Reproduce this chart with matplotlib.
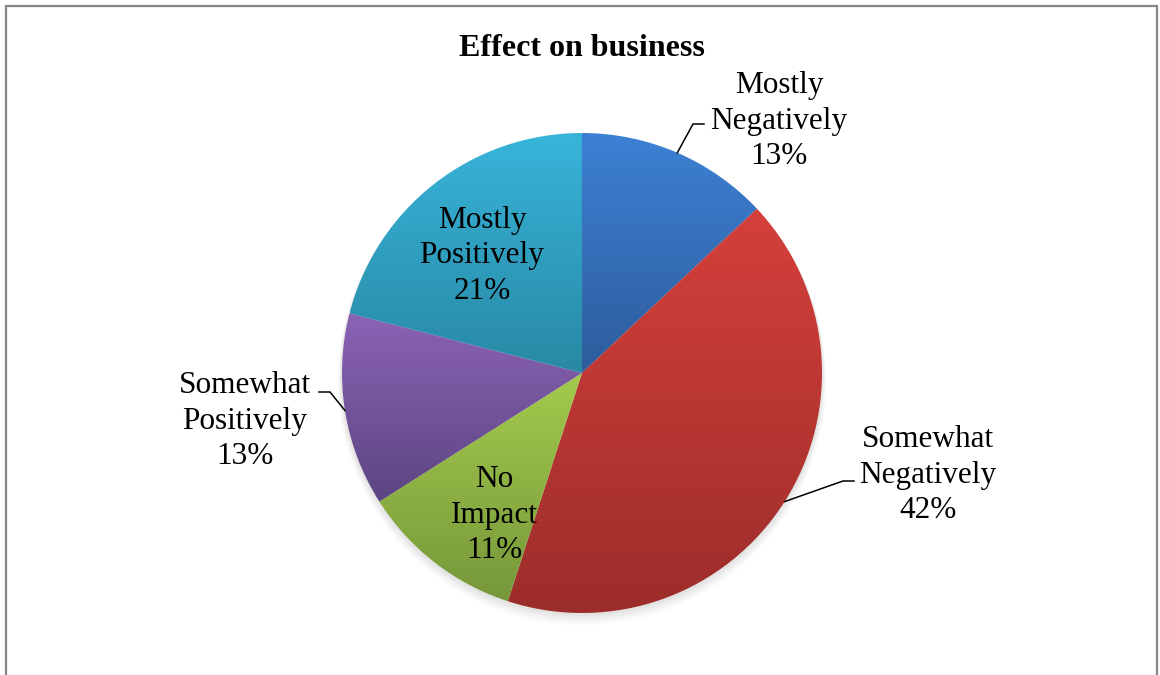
import numpy as np
import matplotlib
matplotlib.use("Agg")
import matplotlib.pyplot as plt
from matplotlib.colors import LinearSegmentedColormap
from matplotlib.patches import Rectangle, Circle

# Survey answers, clockwise from 12 o'clock
labels = ["Mostly\nNegatively", "Somewhat\nNegatively", "No\nImpact",
          "Somewhat\nPositively", "Mostly\nPositively"]
shares = [13, 42, 11, 13, 21]

# (top, bottom) of the vertical gradient in each slice
grad_top = ["#3d81d4", "#d5403b", "#a4cb4d", "#8b63b5", "#38b4da"]
grad_bot = ["#2d5c9c", "#9c2d2a", "#76973a", "#5c4582", "#2889a5"]

# label block centres (pixels)
label_px = [(779, 121), (928, 475), (494, 515), (245, 421), (482, 256)]
# where a leader line meets its label, as a pixel offset from the label centre
leader_end = [(-75, 3), (-74, 6), None, (74, -29), None]
ELBOW = 11  # length of the flat part of a leader, pixels

W, H = 1160, 675
CX, CY, R = 582, 373, 240   # pie centre / radius in pixels

plt.rcParams["font.family"] = ["Liberation Serif", "DejaVu Serif"]

fig = plt.figure(figsize=(W / 100, H / 100), dpi=100)
ax = fig.add_axes([0, 0, 1, 1])


def px2d(x, y):
    return (x - CX) / R, (CY - y) / R


# soft shadow under the pie
for k, a in enumerate([0.05, 0.05, 0.04, 0.03]):
    ax.add_patch(Circle((0, -(2 + 2 * k) / R), 1.0 + (1 + k) / R,
                        color="#606060", alpha=a, lw=0, zorder=0))

wedges, _ = ax.pie(shares, startangle=90, counterclock=False, radius=1,
                   center=(0, 0), frame=True,
                   wedgeprops=dict(facecolor="none", edgecolor="none"))

grad = np.linspace(0, 1, 256).reshape(-1, 1)
for w, c0, c1 in zip(wedges, grad_top, grad_bot):
    ext = w.get_path().get_extents()
    cmap = LinearSegmentedColormap.from_list("g", [c0, c1])
    im = ax.imshow(grad, cmap=cmap, aspect="auto", origin="upper",
                   extent=(ext.x0, ext.x1, ext.y0, ext.y1), zorder=1,
                   interpolation="bilinear")
    im.set_clip_path(w)

ax.set_xlim(-CX / R, (W - CX) / R)
ax.set_ylim(-(H - CY) / R, CY / R)
ax.set_aspect("auto")
ax.axis("off")

# data labels and leader lines
cum = np.cumsum([0] + shares)
total = float(sum(shares))
for i, (lab, v) in enumerate(zip(labels, shares)):
    lpx, lpy = label_px[i]
    lx, ly = px2d(lpx, lpy)
    ax.text(lx, ly, f"{lab}\n{v}%", ha="center", va="center",
            fontsize=22.5, linespacing=1.28, color="black", zorder=3)
    if leader_end[i] is None:
        continue
    mid = np.deg2rad(90 - 360 * (cum[i] + v / 2) / total)
    sx, sy = np.cos(mid), np.sin(mid)
    epx = lpx + leader_end[i][0]
    epy = lpy + leader_end[i][1]
    kpx = epx - ELBOW if leader_end[i][0] < 0 else epx + ELBOW
    ex, ey = px2d(epx, epy)
    kx, ky = px2d(kpx, epy)
    ax.plot([sx, kx, ex], [sy, ky, ey], color="black", lw=1.1, zorder=3,
            solid_joinstyle="miter")

ax.text(0, px2d(0, 49)[1], "Effect on business", ha="center", va="center",
        fontsize=23, fontweight="bold", zorder=3)

# chart-area frame
fig.patches.append(Rectangle((6 / W, -0.01), (1157 - 6) / W, 1 - 6 / H + 0.01,
                             transform=fig.transFigure, fill=False,
                             edgecolor="#878787", lw=1.6))

fig.savefig("out.png", dpi=100, facecolor="white")
